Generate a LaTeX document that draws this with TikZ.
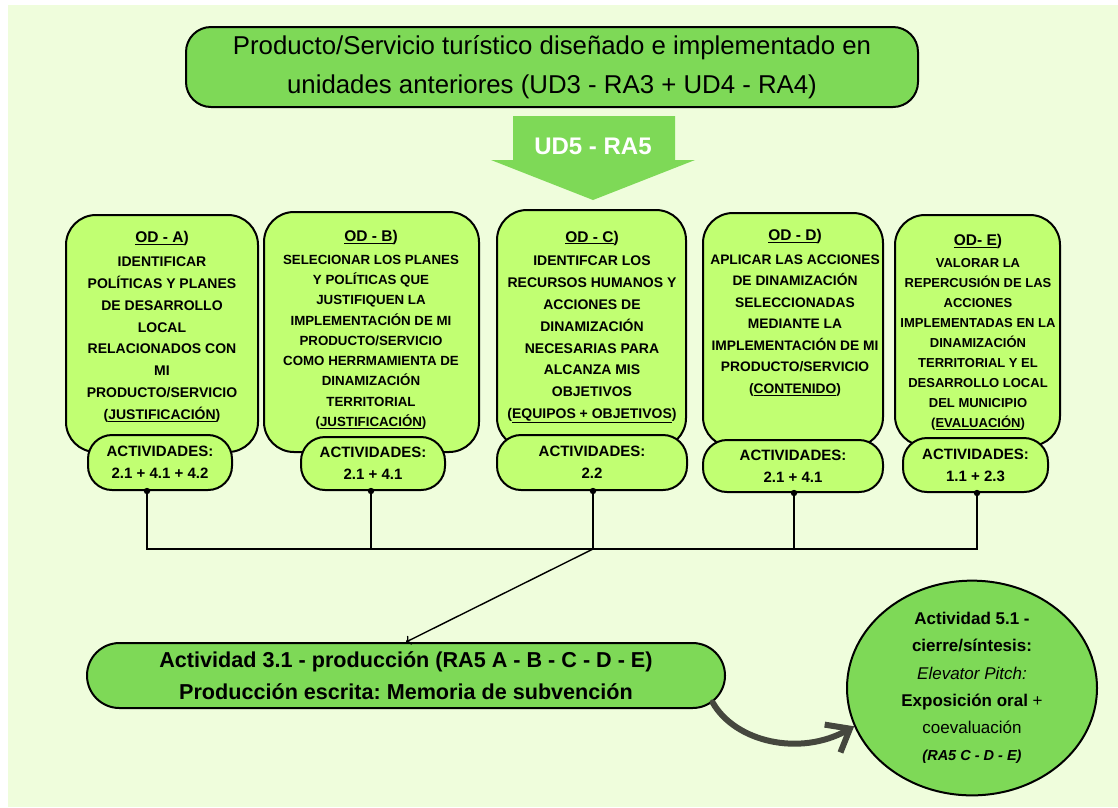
\documentclass[tikz,border=0pt]{standalone}
\usepackage{fontspec}
\setmainfont{Liberation Sans}
\usetikzlibrary{shapes.geometric,shapes.misc,arrows.meta}
\frenchspacing
\definecolor{fondo}{RGB}{239,253,220}
\definecolor{verde}{RGB}{126,217,87}
\definecolor{verdeclaro}{RGB}{193,255,114}
\definecolor{gris}{RGB}{69,71,62}
\tikzstyle{topbox} = [draw, line width=2pt, fill=verde, rounded corners=25pt, minimum width=732pt, minimum height=80pt, inner sep=0pt, align=center, font=\fontsize{25.8}{39}\selectfont]
\tikzstyle{odbox} = [draw, line width=2pt, fill=verdeclaro, rounded corners=30pt, inner sep=0pt]
\tikzstyle{odtext} = [align=center, inner sep=0pt]
\tikzstyle{actbox} = [draw, line width=2pt, fill=verdeclaro, rounded corners=24pt, inner sep=0pt, align=center, font=\bfseries\fontsize{15}{22}\selectfont]
\tikzstyle{prodbox} = [draw, line width=2pt, fill=verde, rounded rectangle, minimum width=638pt, minimum height=65pt, inner sep=0pt, align=center, font=\bfseries\fontsize{21.6}{32}\selectfont]
\tikzstyle{cierre} = [draw, line width=2pt, fill=verde, ellipse, minimum width=250pt, minimum height=210pt, inner sep=0pt, align=center, font=\fontsize{17}{27.3}\selectfont]
\tikzstyle{linea} = [line width=1.4pt]
\tikzstyle{curva} = [draw=gris, line width=6pt, line cap=round, -{Straight Barb[length=20pt,width=32pt]}]
\newcommand{\cab}[1]{{\fontsize{15.5}{24}\selectfont #1}}

\begin{document}
\begin{tikzpicture}[x=1pt,y=-1pt]
	  \useasboundingbox (0,0) rectangle (1118,807);
	  \fill [fondo] (8,5) rectangle (1118,807);

	  \node (top) at (552,67) [topbox] {Producto/Servicio turístico diseñado e implementado en\\unidades anteriores (UD3 - RA3 + UD4 - RA4)};
	  \fill [verde] (513,116) -- (675,116) -- (675,160) -- (695,160) -- (593,200) -- (491,160) -- (513,160) -- cycle;
	  \node (ud) at (593,146) [text=white, font=\bfseries\fontsize{24}{28}\selectfont] {UD5 - RA5};

	  \node (odA) at (162,333.5) [odbox, minimum width=192pt, minimum height=237pt] {};
	  \node (txtA) at (162,327) [odtext, font=\bfseries\fontsize{14}{21.8}\selectfont] {\cab{\underline{OD - A})}\\[2pt]IDENTIFICAR\\POLÍTICAS Y PLANES\\DE DESARROLLO\\LOCAL\\RELACIONADOS CON\\MI\\PRODUCTO/SERVICIO\\(\underline{JUSTIFICACIÓN})};
	  \node (actA) at (160,462.5) [actbox, minimum width=144pt, minimum height=55pt] {ACTIVIDADES:\\2.1 + 4.1 + 4.2};

	  \node (odB) at (371.5,332) [odbox, minimum width=215pt, minimum height=240pt] {};
	  \node (txtB) at (371,330) [odtext, font=\bfseries\fontsize{13.3}{20.3}\selectfont] {\cab{\underline{OD - B})}\\[2pt]SELECIONAR LOS PLANES\\Y POLÍTICAS QUE\\JUSTIFIQUEN LA\\IMPLEMENTACIÓN DE MI\\PRODUCTO/SERVICIO\\COMO HERRMAMIENTA DE\\DINAMIZACIÓN\\TERRITORIAL\\(\underline{JUSTIFICACIÓN})};
	  \node (actB) at (373,463.5) [actbox, minimum width=144pt, minimum height=53pt] {ACTIVIDADES:\\2.1 + 4.1};

	  \node (odC) at (591.5,329) [odbox, minimum width=189pt, minimum height=238pt] {};
	  \node (txtC) at (592,327) [odtext, font=\bfseries\fontsize{14}{21.8}\selectfont] {\cab{\underline{OD - C})}\\[2pt]IDENTIFCAR LOS\\RECURSOS HUMANOS Y\\ACCIONES DE\\DINAMIZACIÓN\\NECESARIAS PARA\\ALCANZA MIS\\OBJETIVOS\\(\underline{EQUIPOS + OBJETIVOS})};
	  \node (actC) at (592,462.5) [actbox, minimum width=190pt, minimum height=55pt] {ACTIVIDADES:\\2.2};

	  \node (odD) at (793,330) [odbox, minimum width=180pt, minimum height=234pt] {};
	  \node (txtD) at (795,313) [odtext, font=\bfseries\fontsize{13.8}{21.5}\selectfont] {\cab{\underline{OD - D})}\\[2pt]APLICAR LAS ACCIONES\\DE DINAMIZACIÓN\\SELECCIONADAS\\MEDIANTE LA\\IMPLEMENTACIÓN DE MI\\PRODUCTO/SERVICIO\\(\underline{CONTENIDO})};
	  \node (actD) at (793,466) [actbox, minimum width=180pt, minimum height=52pt] {ACTIVIDADES:\\2.1 + 4.1};

	  \node (odE) at (977.5,330.5) [odbox, minimum width=165pt, minimum height=231pt] {};
	  \node (txtE) at (978,332) [odtext, font=\bfseries\fontsize{13}{20}\selectfont] {\cab{\underline{OD- E})}\\[2pt]VALORAR LA\\REPERCUSIÓN DE LAS\\ACCIONES\\IMPLEMENTADAS EN LA\\DINAMIZACIÓN\\TERRITORIAL Y EL\\DESARROLLO LOCAL\\DEL MUNICIPIO\\(\underline{EVALUACIÓN})};
	  \node (actE) at (975.5,465) [actbox, minimum width=145pt, minimum height=54pt] {ACTIVIDADES:\\1.1 + 2.3};

	  \node (prod) at (406,675.5) [prodbox] {Actividad 3.1 - producción (RA5 A - B - C - D - E)\\Producción escrita: Memoria de subvención};
	  \node (act5) at (972,688) [cierre] {\textbf{Actividad 5.1 -}\\\textbf{cierre/síntesis:}\\\textit{Elevator Pitch:}\\\textbf{Exposición oral} +\\coevaluación\\{\fontsize{14.5}{16}\selectfont\textbf{\textit{(RA5 C - D - E)}}}};

	  \coordinate (jA) at (147,549);
	  \coordinate (jB) at (371,549);
	  \coordinate (jC) at (593,549);
	  \coordinate (jD) at (794,549);
	  \coordinate (jE) at (977,549);

	  \draw [linea] (jA |- actA.south) -- (jA) -- (jE) -- (jE |- actE.south);
	  \draw [linea] (jB |- actB.south) -- (jB);
	  \draw [linea] (jC |- actC.south) -- (jC);
	  \draw [linea] (jD |- actD.south) -- (jD);
	  \fill (jA |- actA.south) circle (3.2pt);
	  \fill (jB |- actB.south) circle (3.2pt);
	  \fill (jC |- actC.south) circle (3.2pt);
	  \fill (jD |- actD.south) circle (3.2pt);
	  \fill (jE |- actE.south) circle (3.2pt);
	  \draw [linea, ->] (jC) -- (prod.north);
	  \draw [curva] (prod.-5) .. controls (735,742) and (800,757) .. (act5.198);
	\end{tikzpicture}
\end{document}
